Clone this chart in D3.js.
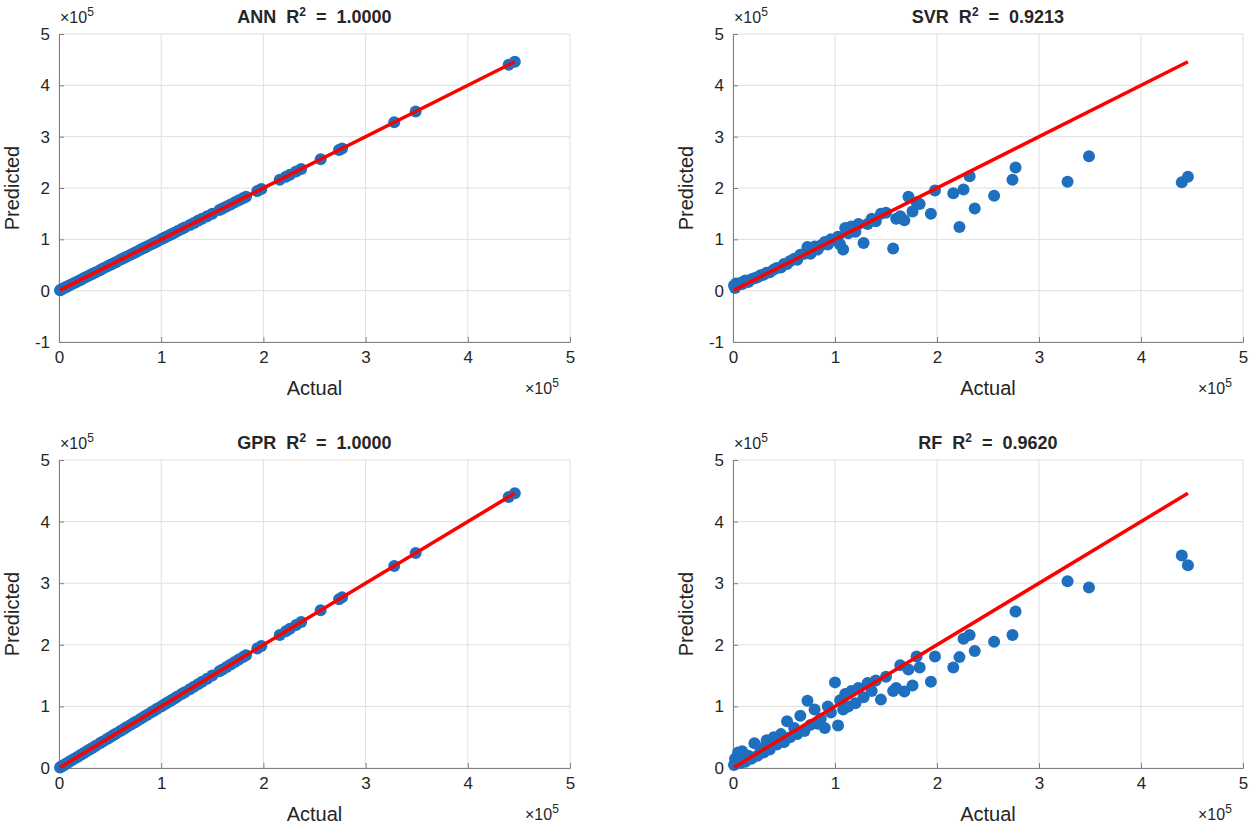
<!DOCTYPE html>
<html><head><meta charset="utf-8">
<script src="https://cdn.jsdelivr.net/npm/d3@7"></script>
<style>body{margin:0;background:#fff}text{font-family:"Liberation Sans",Arial,sans-serif;fill:#262626;white-space:pre}</style>
</head><body><svg width="1252" height="825"></svg>
<script>
// values in units of 1e5
const actual = [0.01,0.02,0.03,0.05,0.07,0.09,0.12,0.15,0.18,0.21,0.24,0.27,0.30,0.33,0.36,0.40,0.43,0.47,0.50,0.53,
  0.56,0.60,0.63,0.66,0.70,0.73,0.76,0.80,0.83,0.86,0.90,0.93,0.96,1.00,1.03,1.05,1.08,1.10,1.13,1.16,
  1.20,1.23,1.28,1.32,1.36,1.40,1.45,1.50,1.57,1.60,1.64,1.68,1.72,1.76,1.80,1.83,1.94,1.98,2.16,2.22,
  2.26,2.32,2.37,2.56,2.74,2.77,3.28,3.49,4.40,4.46]
const annPred = [0.01,0.02,0.03,0.05,0.07,0.09,0.12,0.15,0.18,0.21,0.24,0.27,0.30,0.33,0.36,0.40,0.43,0.47,0.50,0.53,
  0.56,0.60,0.63,0.66,0.70,0.73,0.76,0.80,0.83,0.86,0.90,0.93,0.96,1.00,1.03,1.05,1.08,1.10,1.13,1.16,
  1.20,1.23,1.28,1.32,1.36,1.40,1.45,1.50,1.57,1.60,1.64,1.68,1.72,1.76,1.80,1.83,1.94,1.98,2.16,2.22,
  2.26,2.32,2.37,2.56,2.74,2.77,3.28,3.49,4.40,4.46]
const gprPred = annPred.slice()
const svrPred = [0.10,0.05,0.14,0.12,0.15,0.13,0.20,0.17,0.22,0.24,0.26,0.30,0.31,0.35,0.36,0.41,0.44,0.45,0.52,0.52,
  0.58,0.62,0.60,0.70,0.72,0.85,0.72,0.86,0.80,0.88,0.95,0.90,1.00,0.98,1.05,0.90,0.80,1.22,1.12,1.25,
  1.15,1.30,0.93,1.30,1.40,1.35,1.50,1.52,0.82,1.40,1.45,1.37,1.83,1.54,1.72,1.69,1.50,1.95,1.90,1.24,
  1.97,2.23,1.60,1.85,2.16,2.40,2.12,2.62,2.11,2.22]
const rfPred = [0.05,0.15,0.10,0.25,0.08,0.27,0.10,0.20,0.15,0.40,0.20,0.32,0.25,0.45,0.30,0.50,0.38,0.55,0.42,0.76,
  0.50,0.65,0.55,0.85,0.60,1.09,0.70,0.95,0.72,0.80,0.65,1.00,0.90,1.39,0.69,1.10,0.95,1.20,1.00,1.25,
  1.05,1.30,1.15,1.38,1.25,1.42,1.11,1.48,1.25,1.30,1.67,1.24,1.60,1.34,1.81,1.63,1.40,1.81,1.63,1.80,
  2.10,2.16,1.90,2.05,2.16,2.54,3.03,2.93,3.45,3.29]
const titles = ['ANN', 'SVR', 'GPR', 'RF']
const r2 = ['1.0000', '0.9213', '1.0000', '0.9620']
const preds = [annPred, svrPred, gprPred, rfPred]
const yDomains = [[-1, 5], [-1, 5], [0, 5], [0, 5]]
const xTicks = [0, 1, 2, 3, 4, 5]

const svg = d3.select('svg')
const boxes = [
  {x0: 59, x1: 570, y0: 34, y1: 342},
  {x0: 733, x1: 1243, y0: 34, y1: 342},
  {x0: 59, x1: 570, y0: 460, y1: 768},
  {x0: 733, x1: 1243, y0: 460, y1: 768}
]

boxes.forEach((b, i) => {
  const x = d3.scaleLinear().domain([0, 5]).range([b.x0, b.x1])
  const y = d3.scaleLinear().domain(yDomains[i]).range([b.y1, b.y0])
  const yTicks = d3.range(yDomains[i][0], 6)
  const g = svg.append('g')

  // grid
  g.selectAll('.gx').data(xTicks).enter().append('line')
   .attr('x1', d => x(d)).attr('x2', d => x(d)).attr('y1', b.y0).attr('y2', b.y1)
   .attr('stroke', '#dfdfdf')
  g.selectAll('.gy').data(yTicks).enter().append('line')
   .attr('y1', d => y(d)).attr('y2', d => y(d)).attr('x1', b.x0).attr('x2', b.x1)
   .attr('stroke', '#dfdfdf')

  // axes
  const fmt = d => String(d)
  const ax = g.append('g').attr('transform', `translate(0,${b.y1})`)
              .call(d3.axisBottom(x).tickValues(xTicks).tickFormat(fmt).tickSize(-5).tickPadding(9))
  const ay = g.append('g').attr('transform', `translate(${b.x0},0)`)
              .call(d3.axisLeft(y).tickValues(yTicks).tickFormat(fmt).tickSize(-5).tickPadding(9))
  ;[ax, ay].forEach(a => {
    a.selectAll('path,line').attr('stroke', '#808080')
    a.selectAll('text').attr('font-size', 17).attr('fill', '#262626')
      .attr('font-family', '"Liberation Sans",Arial,sans-serif')
  })

  // points
  g.selectAll('circle').data(actual).enter().append('circle')
   .attr('cx', d => x(d)).attr('cy', (d, k) => y(preds[i][k]))
   .attr('r', 6).attr('fill', '#1f6fbf')

  // line
  g.append('line')
   .attr('x1', x(d3.min(actual))).attr('y1', y(d3.min(actual)))
   .attr('x2', x(d3.max(actual))).attr('y2', y(d3.max(actual)))
   .attr('stroke', '#ff0000').attr('stroke-width', 3.5)

  // labels
  const t = g.append('text').attr('x', (b.x0 + b.x1) / 2).attr('y', b.y0 - 11)
             .attr('text-anchor', 'middle').attr('font-size', 18).attr('font-weight', 'bold')
  t.append('tspan').text(titles[i] + '  R')
  t.append('tspan').attr('dy', -7).attr('font-size', 12).text('2')
  t.append('tspan').attr('dy', 7).text('  =  ' + r2[i])

  g.append('text').attr('x', (b.x0 + b.x1) / 2).attr('y', b.y1 + 53)
   .attr('text-anchor', 'middle').attr('font-size', 20).text('Actual')
  g.append('text').attr('transform', `translate(${b.x0 - 40},${(b.y0 + b.y1) / 2}) rotate(-90)`)
   .attr('text-anchor', 'middle').attr('font-size', 20).text('Predicted')

  const e1 = g.append('text').attr('x', b.x0 + 1).attr('y', b.y0 - 11).attr('font-size', 16)
  e1.append('tspan').text('×10')
  e1.append('tspan').attr('dy', -7).attr('font-size', 12).text('5')
  const e2 = g.append('text').attr('x', b.x1 - 45).attr('y', b.y1 + 52).attr('font-size', 16)
  e2.append('tspan').text('×10')
  e2.append('tspan').attr('dy', -7).attr('font-size', 12).text('5')
})
</script></body></html>
